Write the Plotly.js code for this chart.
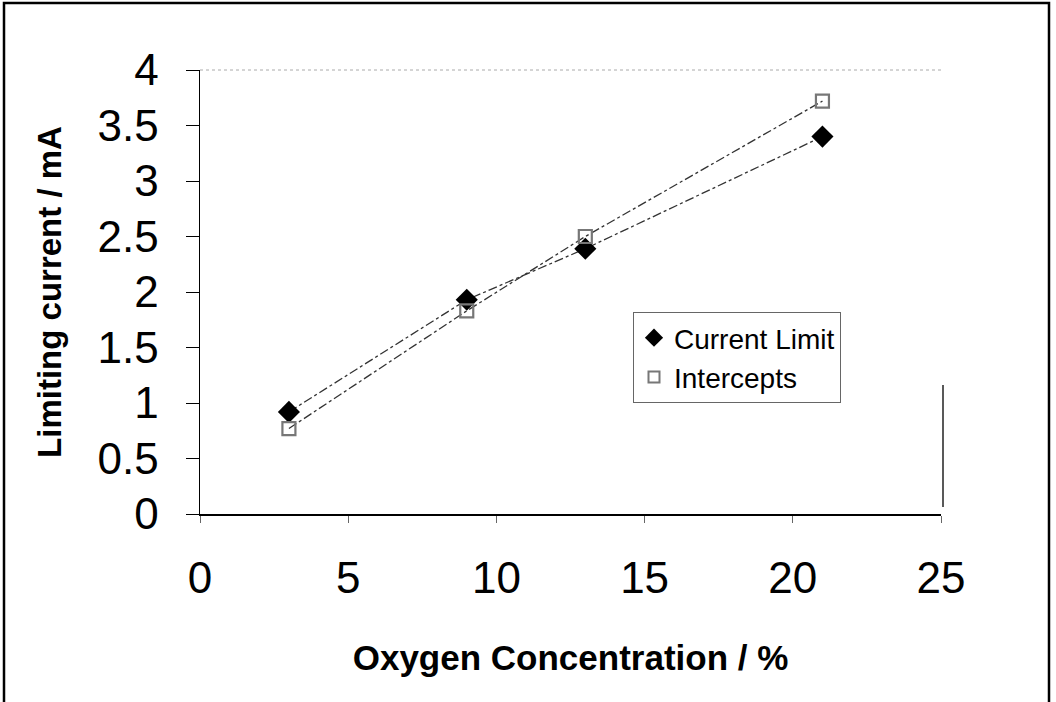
<!DOCTYPE html>
<html>
<head>
<meta charset="utf-8">
<script src="https://cdn.plot.ly/plotly-3.0.1.min.js"></script>
<style>html,body{margin:0;padding:0;background:#fff;}#chart{width:1056px;height:702px;}</style>
</head>
<body>
<div id="chart"></div>
<script>
const oxygen = [3, 9, 13, 21];
const currentLimit = [0.92, 1.93, 2.39, 3.40];
const intercepts = [0.77, 1.83, 2.50, 3.72];
const seriesNames = ['Current Limit', 'Intercepts'];
const xTicks = [0, 5, 10, 15, 20, 25];
const yTicks = [0, 0.5, 1, 1.5, 2, 2.5, 3, 3.5, 4];

const W = 1056, H = 702;
const M = {l: 200, r: 115, t: 70, b: 188};
const pw = W - M.l - M.r, ph = H - M.t - M.b;
function px(x){ return (x - M.l) / pw; }
function py(y){ return (H - M.b - y) / ph; }

const diamondMarker = {symbol: 'diamond', size: 17, color: '#000'};
const squareMarker = {symbol: 'square-open', size: 13, color: '#777', line: {width: 2.2, color: '#777'}};

const traces = [
  {x: oxygen, y: currentLimit, name: seriesNames[0], type: 'scatter', mode: 'lines+markers',
   showlegend: false, line: {color: '#333', width: 1.3, dash: 'dashdot'}, marker: diamondMarker},
  {x: oxygen, y: intercepts, name: seriesNames[1], type: 'scatter', mode: 'lines+markers',
   showlegend: false, line: {color: '#333', width: 1.3, dash: 'dashdot'}, marker: squareMarker},
  {x: [null], y: [null], name: seriesNames[0], type: 'scatter', mode: 'markers',
   marker: {symbol: 'diamond', size: 14, color: '#000'}},
  {x: [null], y: [null], name: seriesNames[1], type: 'scatter', mode: 'markers',
   marker: {symbol: 'square-open', size: 11, color: '#777', line: {width: 2, color: '#777'}}}
];

const layout = {
  width: W, height: H,
  margin: M,
  paper_bgcolor: '#fff', plot_bgcolor: '#fff',
  font: {family: 'Liberation Sans, Arial, sans-serif', color: '#000'},
  showlegend: true,
  legend: {x: px(633), y: py(312), xanchor: 'left', yanchor: 'top',
    bgcolor: '#fff', bordercolor: '#666', borderwidth: 1,
    font: {size: 28, family: 'Liberation Sans, Arial, sans-serif'},
    itemwidth: 30, tracegroupgap: 0},
  xaxis: {range: [0, 25], tickvals: xTicks, ticktext: xTicks.map(String),
    showgrid: false, zeroline: false, showline: true, linecolor: '#000', linewidth: 1.5,
    ticks: 'outside', ticklen: 7, tickcolor: '#666', ticklabelstandoff: 18,
    tickfont: {size: 44},
    title: {text: '<b>Oxygen Concentration / %</b>', font: {size: 35}, standoff: 44}},
  yaxis: {range: [0, 4], tickvals: yTicks, ticktext: yTicks.map(String),
    showgrid: false, zeroline: false, showline: true, linecolor: '#000', linewidth: 1.5,
    ticks: 'outside', ticklen: 13, tickcolor: '#000', ticklabelstandoff: 18,
    tickfont: {size: 44},
    title: {text: '<b>Limiting current / mA</b>', font: {size: 33}, standoff: 26}},
  shapes: [
    {type: 'line', xref: 'paper', yref: 'paper', x0: 0, x1: 1, y0: 1, y1: 1,
     line: {color: '#aaa', width: 1, dash: 'dot'}},
    {type: 'line', xref: 'paper', yref: 'paper', x0: px(943), x1: px(943), y0: py(507), y1: py(385),
     line: {color: '#222', width: 1.5}},
    {type: 'rect', xref: 'paper', yref: 'paper', x0: px(4), x1: px(1049), y0: py(3), y1: py(705),
     line: {color: '#000', width: 2.5}}
  ]
};

Plotly.newPlot('chart', traces, layout, {displayModeBar: false, staticPlot: true});
</script>
</body>
</html>
